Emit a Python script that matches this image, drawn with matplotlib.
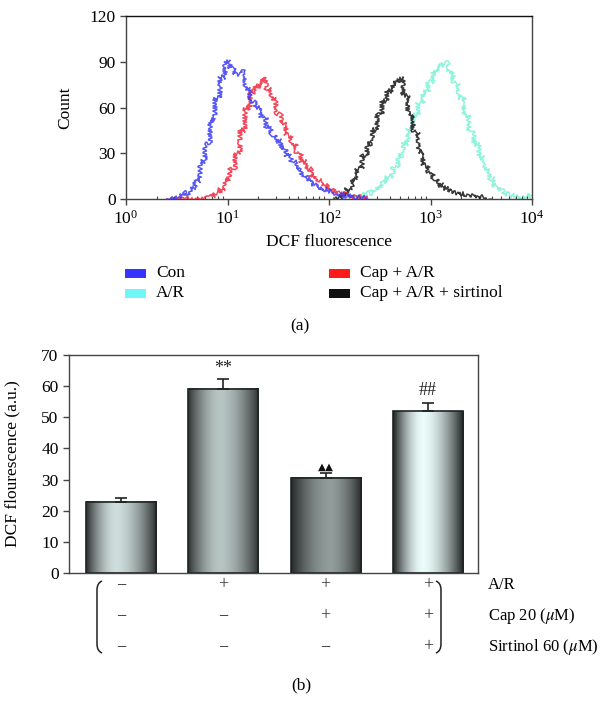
import numpy as np
import matplotlib
matplotlib.use("Agg")
import matplotlib.pyplot as plt
from matplotlib.patches import Rectangle, PathPatch
from matplotlib.path import Path
from matplotlib.ticker import FixedLocator, LogFormatterMathtext, NullFormatter
import matplotlib.transforms as mtransforms

# ---- panel (a): flow cytometry histograms (log10 start of first bin, 0.05 decade bins)
BIN_STEP = 0.05

con_start = 0.40
con_counts = [0, 0, 1, 2, 4, 7, 12, 24, 36, 52, 66, 80, 90, 86, 82, 83, 73, 64, 60, 54,
              47, 42, 38, 33, 28, 25, 20, 16, 13, 10, 8, 6, 5, 4, 3, 2, 2, 1, 1, 0.5, 0]

cap_ar_start = 0.40
cap_ar_counts = [0, 0, 0, 0, 0, 0, 0, 0, 1, 2, 4, 7, 13, 20, 30, 45, 60, 70, 74, 79,
                 72, 66, 56, 50, 42, 36, 30, 24, 20, 15, 12, 9, 7, 5, 4, 3, 2, 1.5, 1, 0.5, 0]

sirt_start = 2.05
sirt_counts = [0.5, 1, 3, 7, 13, 20, 28, 36, 45, 55, 64, 71, 76, 79, 68, 56, 44, 31, 22, 17,
               13, 9, 7, 5, 4, 3, 2.5, 2, 1.5, 1, 0.5, 0]

ar_start = 2.20
ar_counts = [0.5, 1, 2, 3, 4, 6, 8, 11, 15, 21, 28, 37, 46, 55, 63, 70, 77, 83, 88, 89,
             84, 76, 66, 55, 45, 36, 27, 19, 13, 8, 5, 3, 2, 1.5, 1.5, 2, 3]

hist_labels = ["Con", "A/R", "Cap + A/R", "Cap + A/R + sirtinol"]

# ---- panel (b): bar chart
bar_values = [22.9, 59.2, 30.6, 52.0]
bar_errors = [1.2, 3.2, 1.5, 2.6]
bar_marks = ["", "**", "\u25B2\u25B2", "##"]
row_names = ["A/R", r"Cap 20 ($\mu$M)", r"Sirtinol 60 ($\mu$M)"]
row_signs = [["\u2212", "+", "+", "+"],
             ["\u2212", "\u2212", "+", "+"],
             ["\u2212", "\u2212", "\u2212", "+"]]

FS = 12.5
plt.rcParams["font.family"] = ["Liberation Serif", "DejaVu Serif"]
plt.rcParams["mathtext.fontset"] = "stix"
plt.rcParams["font.size"] = FS

W, H = 606, 712
fig = plt.figure(figsize=(W / 100, H / 100), dpi=100)


def fx(px):
    return px / W


def fy(py):
    return 1 - py / H


spine_col = "#444444"

# ================= panel (a)
ax1 = fig.add_axes([fx(126), fy(199), fx(532) - fx(126), fy(16) - fy(199)])

series = [
    (ar_start, ar_counts, "#7df2d6", 1),
    (sirt_start, sirt_counts, "#151515", 2),
    (cap_ar_start, cap_ar_counts, "#f2283f", 3),
    (con_start, con_counts, "#3b3bf5", 4),
]
for start, counts, col, z in series:
    x = 10 ** (start + BIN_STEP * np.arange(len(counts)))
    line, = ax1.plot(x, counts, color=col, lw=1.1, alpha=0.85,
                     drawstyle="steps-mid", zorder=z)
    line.set_sketch_params(scale=2.2, length=2.0, randomness=3.0)

ax1.set_xscale("log")
ax1.set_xlim(1, 1e4)
ax1.set_ylim(0, 120)
ax1.set_yticks([0, 30, 60, 90, 120])
ax1.xaxis.set_major_locator(FixedLocator([1, 10, 100, 1000, 10000]))
ax1.xaxis.set_major_formatter(LogFormatterMathtext())
minor = [m * 10 ** d for d in range(4) for m in range(2, 10)]
ax1.xaxis.set_minor_locator(FixedLocator(minor))
ax1.xaxis.set_minor_formatter(NullFormatter())
ax1.tick_params(axis="both", which="major", direction="out", length=4,
                width=1, color=spine_col, labelsize=FS)
ax1.tick_params(axis="x", which="minor", direction="in", length=2,
                width=0.8, color=spine_col)
for s in ax1.spines.values():
    s.set_color(spine_col)
    s.set_linewidth(1.0)
ax1.spines["top"].set_color("#111111")
ax1.set_ylabel("Count", fontsize=FS)
ax1.yaxis.set_label_coords((73 - 126) / 406, 0.5)
ax1.set_xlabel("DCF fluorescence", fontsize=FS)
ax1.xaxis.set_label_coords(0.5, (199 - 242) / 183)
ax1.xaxis.label.set_va("center")

# legend drawn as figure artists
leg_items = [
    (125, 273, "#3535ff", hist_labels[0]),
    (125, 293, "#6ff6f6", hist_labels[1]),
    (329, 273, "#ff1a1a", hist_labels[2]),
    (329, 293, "#111111", hist_labels[3]),
]
for px, py, col, lab in leg_items:
    fig.add_artist(Rectangle((fx(px), fy(py + 4.5)), 21 / W, 9 / H,
                             transform=fig.transFigure, facecolor=col,
                             edgecolor="none"))
    fig.text(fx(px + 31), fy(py), lab, fontsize=FS, va="center", ha="left")

fig.text(fx(300), fy(326), "(a)", fontsize=FS, ha="center", va="center")

# ================= panel (b)
ax2 = fig.add_axes([fx(69), fy(573), fx(478) - fx(69), fy(355) - fy(573)])
xpos = np.arange(len(bar_values))
bar_w = 0.685

# gradient style per bar: (edge brightness, peak brightness, peak position)
shades = [(0.18, 0.88, 0.42), (0.2, 0.78, 0.45), (0.16, 0.62, 0.55), (0.12, 1.0, 0.42)]
t = np.linspace(0, 1, 256)
for xi, val, (edge, peak, p) in zip(xpos, bar_values, shades):
    u = np.where(t < p, (p - t) / p, (t - p) / (1 - p))
    b = edge + (peak - edge) * (1 - u ** 1.7)
    img = np.dstack([b * 0.92, b * 0.99, b * 0.98])
    ax2.imshow(img, extent=[xi - bar_w / 2, xi + bar_w / 2, 0, val],
               aspect="auto", interpolation="bilinear", zorder=1)

ax2.bar(xpos, bar_values, width=bar_w, fill=False, edgecolor="#1e2424",
        linewidth=1.2, zorder=2)
ax2.errorbar(xpos, bar_values, yerr=[[0] * len(bar_errors), bar_errors],
             fmt="none", ecolor="#1e2424", elinewidth=1.2, capsize=4,
             capthick=1.2, zorder=3)

offsets = [0, 10, 6, 12]
for xi, val, err, mk, off in zip(xpos, bar_values, bar_errors, bar_marks, offsets):
    if not mk:
        continue
    if mk.startswith("\u25B2"):
        ax2.annotate(mk, (xi, val + err), xytext=(0, off), textcoords="offset pixels",
                     ha="center", va="center", fontsize=7.5,
                     family=["DejaVu Sans"], color="#111111")
    else:
        ax2.annotate(mk, (xi, val + err), xytext=(0, off), textcoords="offset pixels",
                     ha="center", va="center", fontsize=13, color="#222222")

ax2.set_xlim(-0.51, 3.49)
ax2.set_ylim(0, 70)
ax2.set_yticks(np.arange(0, 71, 10))
ax2.set_xticks([])
ax2.tick_params(axis="y", direction="out", length=4, width=1,
                color=spine_col, labelsize=FS)
for s in ax2.spines.values():
    s.set_color(spine_col)
    s.set_linewidth(1.0)
ax2.set_ylabel("DCF flourescence (a.u.)", fontsize=FS)
ax2.yaxis.set_label_coords((20 - 69) / 409, 0.5)

# condition table under bars
trans = mtransforms.blended_transform_factory(ax2.transData, fig.transFigure)
row_y = [585, 616, 647]
for signs, name, py in zip(row_signs, row_names, row_y):
    for xi, sg in zip(xpos, signs):
        ax2.text(xi, fy(py), sg, transform=trans, ha="center", va="center",
                 fontsize=13, color="#333333")
    fig.text(fx(488), fy(py), name, fontsize=12, ha="left", va="center")


def bracket(x0, sign):
    # sign=+1 opens to the right "(", -1 for ")"
    top, bot = 581, 653
    verts = [(fx(x0 + sign * 5), fy(top)), (fx(x0), fy(top + 2)), (fx(x0), fy(top + 9)),
             (fx(x0), fy(bot - 9)),
             (fx(x0), fy(bot - 2)), (fx(x0 + sign * 5), fy(bot))]
    codes = [Path.MOVETO, Path.CURVE3, Path.CURVE3, Path.LINETO, Path.CURVE3, Path.CURVE3]
    fig.add_artist(PathPatch(Path(verts, codes), transform=fig.transFigure,
                             fill=False, edgecolor="#222222", lw=1.1))


bracket(97, 1)
bracket(441, -1)

fig.text(fx(301), fy(685), "(b)", fontsize=FS, ha="center", va="center")

fig.savefig("out.png", dpi=100)
